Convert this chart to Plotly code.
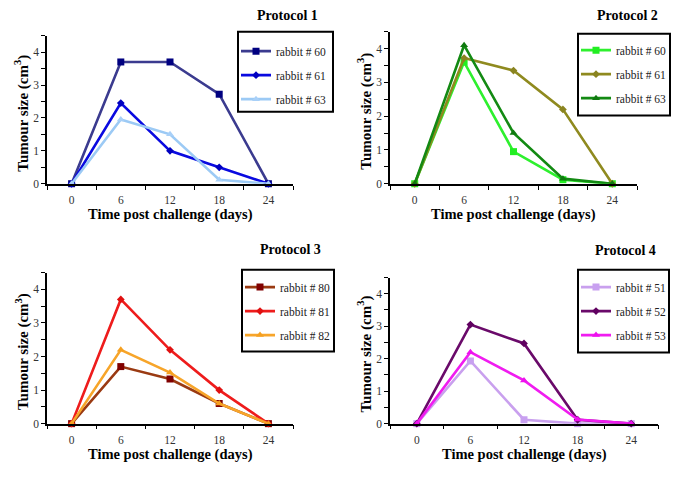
import plotly.graph_objects as go

# page is 685x480; the browser's default 8px body margin offsets the figure
OFF = 8
W, H = 685 - OFF, 480 - OFF

days = [0, 6, 12, 18, 24]
x_tick_labels = ["0", "6", "12", "18", "24"]
y_tick_labels = ["0", "1", "2", "3", "4"]

titles = ["Protocol 1", "Protocol 2", "Protocol 3", "Protocol 4"]

p1_names = ["rabbit # 60", "rabbit # 61", "rabbit # 63"]
p1_r60 = [0, 3.70, 3.70, 2.72, 0]
p1_r61 = [0, 2.45, 1.00, 0.50, 0]
p1_r63 = [0, 1.95, 1.50, 0.12, 0]

p2_names = ["rabbit # 60", "rabbit # 61", "rabbit # 63"]
p2_r60 = [0, 3.60, 0.95, 0.12, 0]
p2_r61 = [0, 3.72, 3.35, 2.20, 0]
p2_r63 = [0, 4.10, 1.50, 0.15, 0]

p3_names = ["rabbit # 80", "rabbit # 81", "rabbit # 82"]
p3_r80 = [0, 1.70, 1.33, 0.60, 0]
p3_r81 = [0, 3.70, 2.20, 1.00, 0]
p3_r82 = [0, 2.20, 1.52, 0.60, 0]

p4_names = ["rabbit # 51", "rabbit # 52", "rabbit # 53"]
p4_r51 = [0, 1.93, 0.12, 0.00, 0]
p4_r52 = [0, 3.05, 2.47, 0.12, 0]
p4_r53 = [0, 2.20, 1.33, 0.13, 0]

panels = [
    (p1_names, [p1_r60, p1_r61, p1_r63],
     [("#3b3b8f", "#000080"), ("#0a0ae0", "#0000c0"), ("#9ccaf5", "#a8d0f8")]),
    (p2_names, [p2_r60, p2_r61, p2_r63],
     [("#2ef02e", "#22ee22"), ("#8f8a1f", "#8a8420"), ("#138a13", "#0f7a0f")]),
    (p3_names, [p3_r80, p3_r81, p3_r82],
     [("#9a3a12", "#800000"), ("#ee1c1c", "#e01010"), ("#f7a52a", "#f5a020")]),
    (p4_names, [p4_r51, p4_r52, p4_r53],
     [("#c9a0ee", "#c8a0f0"), ("#6a0a6a", "#600060"), ("#f01cf0", "#ee10ee")]),
]
symbols = ["square", "diamond", "triangle-up"]
msizes = [7, 6, 7]

# panel geometry in page pixels: (axis left, axis right, y=0 pixel, y=4.5 pixel)
geom = [
    (47, 293, 186, 36),
    (390, 637, 186, 32),
    (47, 293, 429, 276),
    (390, 658, 429, 281),
]
title_pos = [(287, 15.5), (627, 15.5), (290, 253), (625, 254)]
legend_box = [(238, 333, 32, 113), (578, 670, 34, 117), (242, 334, 273, 356), (578, 669, 273, 357)]
legend_first = [53, 52, 292, 292]

def px(x):
    return (x - OFF) / W

def py(y):
    return 1 - (y - OFF) / H

fig = go.Figure()
serif = "Liberation Serif"
annotations = []
shapes = []
layout_axes = {}

for i, (names, series, cols) in enumerate(panels):
    k = i + 1
    xa = "x" if k == 1 else f"x{k}"
    ya = "y" if k == 1 else f"y{k}"
    lg = "legend" if k == 1 else f"legend{k}"
    for j in range(3):
        fig.add_trace(go.Scatter(
            x=days, y=series[j], name=names[j], mode="lines+markers",
            line=dict(color=cols[j][0], width=2.6),
            marker=dict(symbol=symbols[j], size=msizes[j], color=cols[j][1]),
            xaxis=xa, yaxis=ya, legend=lg, legendgroup=f"g{k}{j}",
            cliponaxis=False,
        ))
    l, r, y0, y1 = geom[i]
    layout_axes[f"xaxis{'' if k == 1 else k}"] = dict(
        domain=[px(l), px(r)], range=[-3, 27], anchor=ya,
        tickvals=days, ticktext=x_tick_labels,
        ticks="outside", ticklen=5, tickcolor="rgba(0,0,0,0)",
        minor=dict(tickvals=[-3, 3, 9, 15, 21, 27], ticks="outside", ticklen=4,
                   tickcolor="black", tickwidth=1, showgrid=False),
        showline=True, linecolor="black", linewidth=1.6,
        showgrid=False, zeroline=False, fixedrange=True,
        tickfont=dict(family=serif, size=11.5, color="#333333"),
    )
    layout_axes[f"yaxis{'' if k == 1 else k}"] = dict(
        domain=[py(y0), py(y1)], range=[0, 4.5], anchor=xa,
        tickvals=[0, 1, 2, 3, 4], ticktext=y_tick_labels,
        ticks="outside", ticklen=4, tickcolor="black", tickwidth=1,
        minor=dict(tickvals=[0.5, 1.5, 2.5, 3.5, 4.5], ticks="outside", ticklen=4,
                   tickcolor="black", tickwidth=1, showgrid=False),
        showline=True, linecolor="black", linewidth=1.6,
        showgrid=False, zeroline=False, fixedrange=True,
        tickfont=dict(family=serif, size=11.5, color="#333333"),
    )
    tx, ty = title_pos[i]
    annotations.append(dict(text=f"<b>{titles[i]}</b>", x=px(tx), y=py(ty), xref="paper", yref="paper",
                            showarrow=False, xanchor="center", yanchor="middle",
                            font=dict(family=serif, size=14, color="black")))
    x0pix = l + 3 / 30 * (r - l)
    x24pix = l + 27 / 30 * (r - l)
    annotations.append(dict(text="<b>Time post challenge (days)</b>", x=px((x0pix + x24pix) / 2),
                            y=py(y0 + 31), xref="paper", yref="paper", showarrow=False,
                            xanchor="center", yanchor="middle",
                            font=dict(family=serif, size=14.5, color="black")))
    annotations.append(dict(text="<b>Tumour size (cm<sup>3</sup>)</b>", x=px(l - 25),
                            y=py((y0 + y1) / 2 + 4), xref="paper", yref="paper", showarrow=False,
                            xanchor="center", yanchor="middle", textangle=-90,
                            font=dict(family=serif, size=15, color="black")))
    bl, br, bt, bb = legend_box[i]
    shapes.append(dict(type="rect", xref="paper", yref="paper", x0=px(bl), x1=px(br),
                       y0=py(bb), y1=py(bt), line=dict(color="black", width=2)))
    layout_axes[lg] = dict(
        x=px(bl - 2), y=py(legend_first[i] - 16), xanchor="left", yanchor="top",
        bgcolor="rgba(0,0,0,0)", borderwidth=0,
        font=dict(family=serif, size=11.5, color="#222222"),
        tracegroupgap=5, traceorder="grouped",
    )

fig.update_layout(
    width=W, height=H, margin=dict(l=0, r=0, t=0, b=0),
    paper_bgcolor="white", plot_bgcolor="white",
    annotations=annotations, shapes=shapes, showlegend=True,
    **layout_axes,
)

fig.write_html("out.html")
